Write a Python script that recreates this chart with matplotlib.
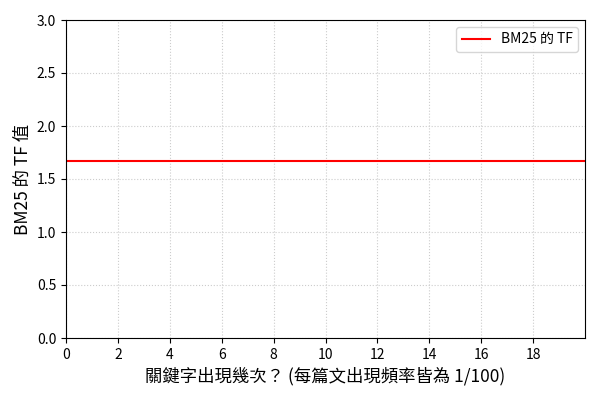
import matplotlib
matplotlib.use("Agg")
import matplotlib.pyplot as plt
import numpy as np

plt.rcParams['font.family'] = ['Noto Sans CJK TC', 'DejaVu Sans']

keyword_counts = list(range(0, 21))
bm25_tf = [1.667] * len(keyword_counts)
x_ticks = [0, 2, 4, 6, 8, 10, 12, 14, 16, 18]
y_ticks = [0.0, 0.5, 1.0, 1.5, 2.0, 2.5, 3.0]

fig = plt.figure(figsize=(6, 4), dpi=100)
ax = fig.add_axes([0.11, 0.155, 0.865, 0.795])
ax.plot(keyword_counts, bm25_tf, color='red', linewidth=1.5, label='BM25 的 TF')
ax.set_xlim(0, 20)
ax.set_ylim(0, 3.0)
ax.set_xticks(x_ticks)
ax.set_yticks(y_ticks)
ax.set_yticklabels([f'{v:.1f}' for v in y_ticks])
ax.grid(True, linestyle=':', color='#cccccc', linewidth=0.8)
ax.set_xlabel('關鍵字出現幾次？ (每篇文出現頻率皆為 1/100)', fontsize=12.5)
ax.set_ylabel('BM25 的 TF 值', fontsize=12.5)
ax.tick_params(labelsize=10)
ax.legend(loc='upper right', fontsize=10)
fig.savefig('out.png', dpi=100)
